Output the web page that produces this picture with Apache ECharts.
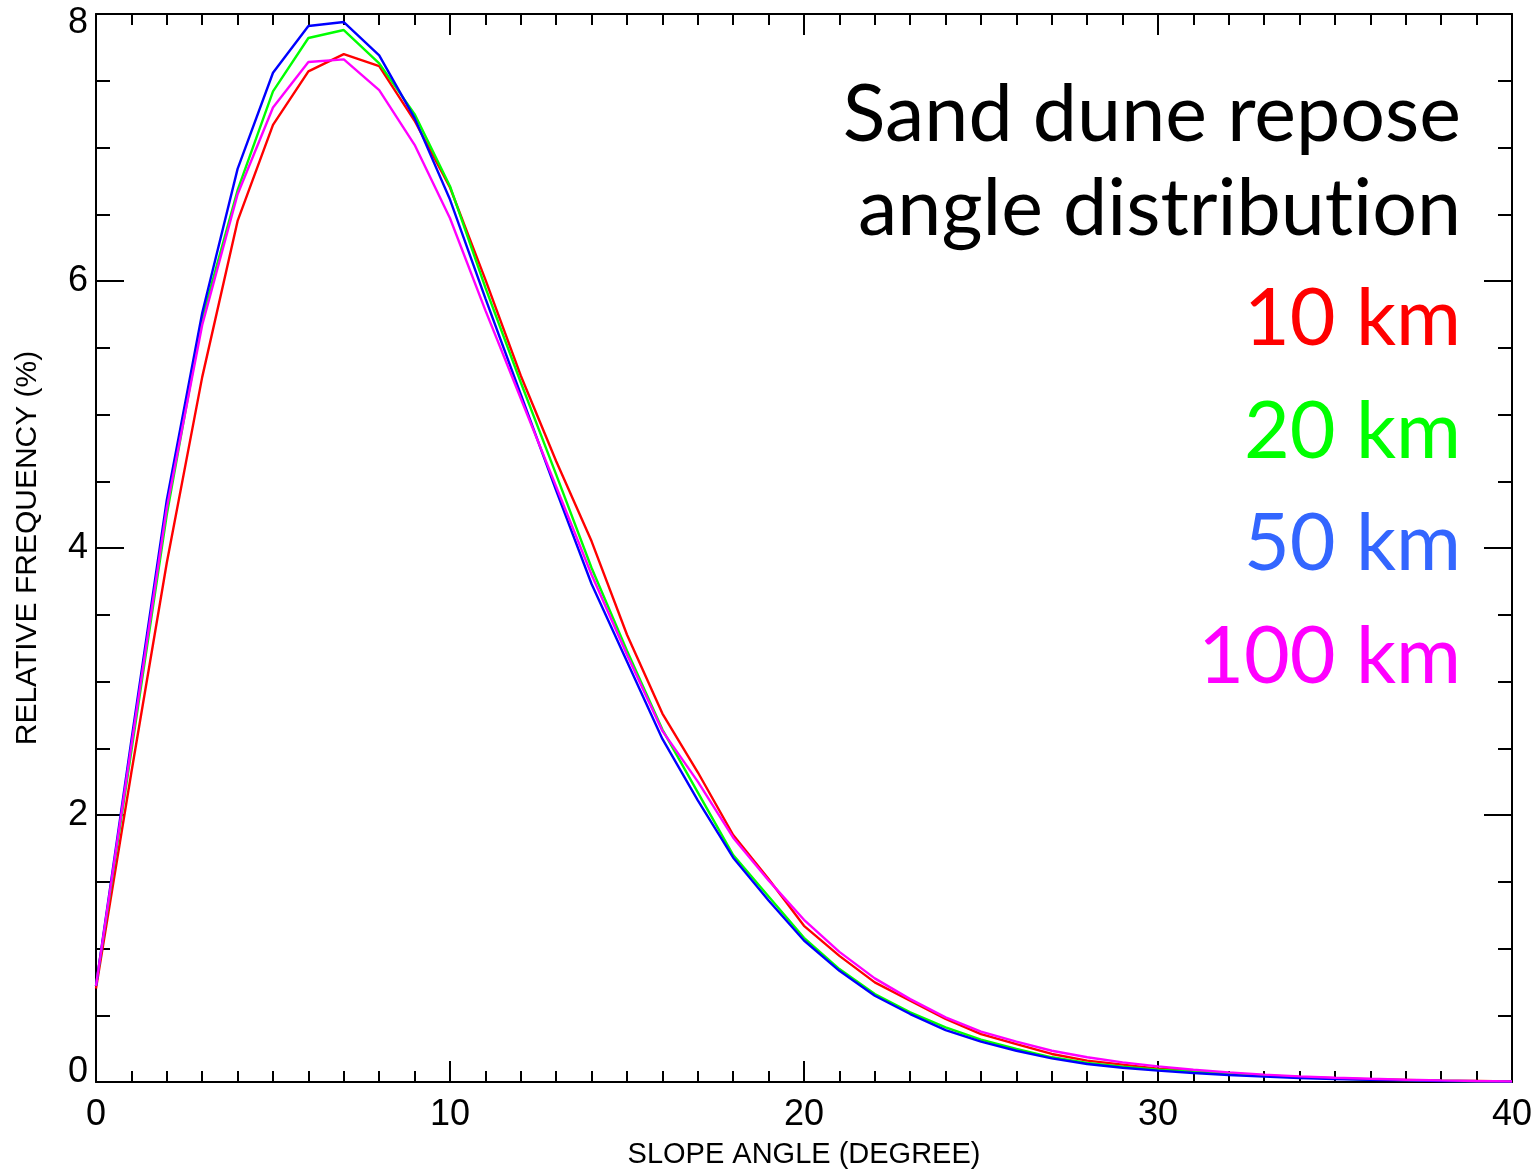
<!DOCTYPE html>
<html><head><meta charset="utf-8">
<script src="https://cdn.jsdelivr.net/npm/echarts@6/dist/echarts.min.js"></script>
<style>html,body{margin:0;padding:0;background:#fff}#c{width:1539px;height:1174px}</style>
</head><body><div id="c"></div>
<script>
const angles = [0,1,2,3,4,5,6,7,8,9,10,11,12,13,14,15,16,17,18,19,20,21,22,23,24,25,26,27,28,29,30,31,32,33,34,35,36,37,38,39,40];
const km10 = [0.70,2.32,3.89,5.28,6.45,7.17,7.57,7.70,7.61,7.20,6.70,6.01,5.29,4.65,4.05,3.35,2.76,2.32,1.85,1.52,1.17,0.945,0.746,0.609,0.472,0.359,0.284,0.21,0.16,0.13,0.10,0.085,0.065,0.05,0.038,0.028,0.02,0.015,0.01,0.007,0.004];
const km20 = [0.72,2.48,4.25,5.72,6.68,7.42,7.82,7.88,7.63,7.25,6.71,5.95,5.24,4.55,3.85,3.23,2.64,2.17,1.70,1.39,1.08,0.846,0.659,0.522,0.409,0.317,0.247,0.185,0.142,0.115,0.092,0.077,0.06,0.046,0.035,0.026,0.019,0.014,0.009,0.006,0.004];
const km50 = [0.72,2.56,4.36,5.76,6.84,7.56,7.91,7.94,7.69,7.22,6.61,5.87,5.15,4.43,3.73,3.15,2.57,2.11,1.68,1.36,1.06,0.833,0.646,0.509,0.389,0.302,0.234,0.177,0.135,0.107,0.085,0.067,0.052,0.04,0.03,0.022,0.016,0.012,0.008,0.005,0.003];
const km100 = [0.72,2.52,4.30,5.67,6.65,7.30,7.64,7.66,7.43,7.02,6.47,5.78,5.12,4.46,3.80,3.20,2.63,2.25,1.83,1.51,1.215,0.975,0.776,0.621,0.484,0.377,0.302,0.234,0.185,0.147,0.117,0.092,0.072,0.055,0.042,0.032,0.024,0.017,0.012,0.008,0.005];
const seriesNames = ['10 km','20 km','50 km','100 km'];
const lineColors = ['#ff0000','#00ff00','#0000ff','#ff00ff'];
const textColors = ['#ff0000','#00ff00','#3366ff','#ff00ff'];
const titleLines = ['Sand dune repose','angle distribution'];
const xTitle = 'SLOPE ANGLE (DEGREE)';
const yTitle = 'RELATIVE FREQUENCY (%)';

const chart = echarts.init(document.getElementById('c'), null, {renderer:'canvas'});
const F = "'Liberation Sans', Arial, sans-serif";
const black = {color:'#000', width:2};
function xAx(pos, withLabel){
  return {type:'value', min:0, max:40, interval:10, position:pos,
    axisLine:{show:true, onZero:false, lineStyle:black},
    axisTick:{show:true, inside:true, length:21, lineStyle:black},
    minorTick:{show:true, splitNumber:10, length:11, lineStyle:black},
    splitLine:{show:false},
    axisLabel:{show:withLabel, fontSize:36, color:'#000', fontFamily:F, margin:15},
    name: withLabel ? xTitle : '', nameLocation:'middle', nameGap:58,
    nameTextStyle:{fontSize:29, color:'#000', fontFamily:F}};
}
function yAx(pos, withLabel){
  return {type:'value', min:0, max:8, interval:2, position:pos,
    axisLine:{show:true, onZero:false, lineStyle:black},
    axisTick:{show:true, inside:true, length:28, lineStyle:black},
    minorTick:{show:true, splitNumber:4, length:14, lineStyle:black},
    splitLine:{show:false},
    axisLabel:{show:withLabel, fontSize:36, color:'#000', fontFamily:F, margin:8,
      formatter: v => v === 8 ? '{t|8}' : (v === 0 ? '{b|0}' : String(v)),
      rich:{t:{fontSize:36, fontFamily:F, color:'#000', padding:[19,0,0,0]},
            b:{fontSize:36, fontFamily:F, color:'#000', padding:[0,0,19,0]}}},
    name: withLabel ? yTitle : '', nameLocation:'middle', nameGap:53,
    nameTextStyle:{fontSize:30, color:'#000', fontFamily:F}};
}
const allData = [km10, km20, km50, km100];
const series = allData.map((arr, k) => ({
  name: seriesNames[k], type:'line', xAxisIndex:0, yAxisIndex:0,
  data: angles.map((a, i) => [a, arr[i]]),
  showSymbol:false, symbol:'none', smooth:false,
  lineStyle:{color:lineColors[k], width:2.4}, itemStyle:{color:lineColors[k]},
  z: 2, animation:false
}));
const TF = "Lato, 'Open Sans', sans-serif";
// split each line at "ti" into rich-text fragments so the font's ti-ligature is not applied
function noLig(t){ return t.split('ti').map(s => '{p|' + s + '}').join('{p|t}{p|i}').replace(/\{p\|\}/g,''); }
const graphics = [];
const tops = [76, 170, 280, 393, 505, 618];
titleLines.forEach((t, i) => graphics.push({type:'text', right:78, top:tops[i],
  style:{text:noLig(t), fill:'#000', font:"79px " + TF, textAlign:'right',
    rich:{p:{fontSize:79, fontFamily:TF, fill:'#000', color:'#000'}}}}));
seriesNames.forEach((t, i) => graphics.push({type:'text', right:78, top:tops[i+2],
  style:{text:t, fill:textColors[i], font:"79px " + TF, textAlign:'right'}}));
chart.setOption({
  animation:false,
  backgroundColor:'#fff',
  grid:{left:96, right:27, top:14, bottom:91, containLabel:false},
  xAxis:[xAx('bottom', true), xAx('top', false)],
  yAxis:[yAx('left', true), yAx('right', false)],
  series: series,
  graphic: graphics
});
</script></body></html>
